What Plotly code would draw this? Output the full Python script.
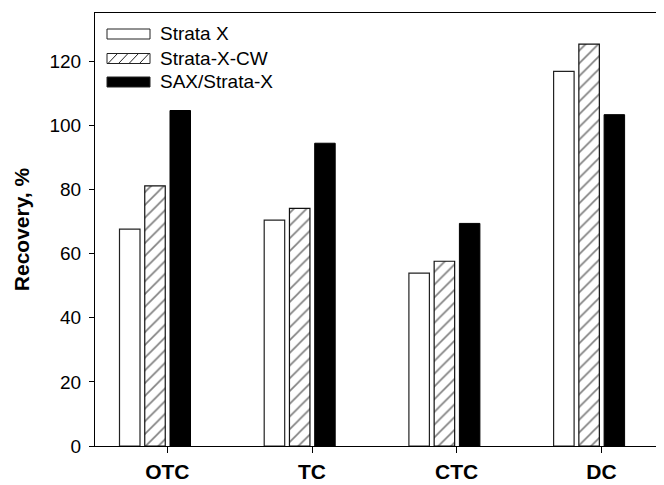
import plotly.graph_objects as go

# ---- data ----
categories = ["OTC", "TC", "CTC", "DC"]
series_names = ["Strata X", "Strata-X-CW", "SAX/Strata-X"]
strata_x = [67.6, 70.4, 53.9, 116.8]
strata_x_cw = [81.1, 74.1, 57.6, 125.3]
sax_strata_x = [104.6, 94.4, 69.4, 103.3]
y_ticks = [0, 20, 40, 60, 80, 100, 120]
y_title = "Recovery, %"

# ---- layout geometry (page has an 8px body margin) ----
OFF = 8
W, H = 664, 485
L, R, T, B = 95 - OFF, 0, 13 - OFF, H - (446 - OFF)
PW, PH = W - L - R, H - T - B
FONT = "Liberation Sans, Arial, Helvetica, sans-serif"


def px_x(px):
    # screen pixel -> paper fraction
    return (px - OFF - L) / PW


def px_y(py):
    return (H - B - (py - OFF)) / PH


fig = go.Figure()
fig.add_trace(go.Bar(
    x=categories, y=strata_x, name=series_names[0],
    marker=dict(color="white", line=dict(color="#222222", width=1.2)),
))
fig.add_trace(go.Bar(
    x=categories, y=strata_x_cw, name=series_names[1],
    marker=dict(color="white", line=dict(color="#111111", width=1.2),
                pattern=dict(shape="/", fgcolor="black", bgcolor="white",
                             size=9, solidity=0.18)),
))
fig.add_trace(go.Bar(
    x=categories, y=sax_strata_x, name=series_names[2],
    marker=dict(color="black", line=dict(color="black", width=1)),
))
# invisible trace that carries the category tick axis
fig.add_trace(go.Scatter(
    x=categories, y=strata_x, xaxis="x2", mode="markers",
    marker=dict(opacity=0), hoverinfo="skip", showlegend=False,
))

# ---- custom legend (wide swatches) ----
shapes = []
annotations = []
row_y = [34, 58.5, 82]
sx0, sx1, sh = 107, 150, 10
for i, (name, yc) in enumerate(zip(series_names, row_y)):
    fill = "black" if i == 2 else "white"
    shapes.append(dict(type="rect", xref="paper", yref="paper",
                       x0=px_x(sx0), x1=px_x(sx1),
                       y0=px_y(yc + sh / 2), y1=px_y(yc - sh / 2),
                       fillcolor=fill, line=dict(color="#222222", width=1)))
    if i == 1:
        step = 10.5
        for k in range(4):
            xa = sx0 + 1 + k * step
            xb = xa + 9.5
            shapes.append(dict(type="line", xref="paper", yref="paper",
                               x0=px_x(xa), x1=px_x(min(xb, sx1)),
                               y0=px_y(yc + sh / 2), y1=px_y(yc - sh / 2),
                               line=dict(color="#222222", width=1)))
    annotations.append(dict(text=name, xref="paper", yref="paper",
                            x=px_x(158), y=px_y(yc), xanchor="left",
                            yanchor="middle", showarrow=False,
                            font=dict(family=FONT, size=19, color="black")))

# axis ranges: group centres at screen x=155 + 144.7*i, ticks at 167.3 + 144.7*i
PPU = 144.7
right_screen = W + OFF
bar_range = [(95 - 155) / PPU, (right_screen - 155) / PPU]
tick_range = [(95 - 167.3) / PPU, (right_screen - 167.3) / PPU]

fig.update_layout(
    width=W, height=H,
    margin=dict(l=L, r=R, t=T, b=B, autoexpand=False),
    paper_bgcolor="white", plot_bgcolor="white",
    barmode="group", bargap=0.4765, bargroupgap=0.188,
    showlegend=False,
    font=dict(family=FONT, color="black"),
    shapes=shapes,
    annotations=annotations,
    xaxis=dict(type="category", range=bar_range,
               showticklabels=False, ticks="", showgrid=False,
               showline=True, linecolor="black", linewidth=1, mirror=True,
               zeroline=False),
    xaxis2=dict(type="category", overlaying="x", anchor="y", side="bottom",
                range=tick_range, categoryorder="array",
                categoryarray=categories,
                ticks="outside", ticklen=6, tickcolor="black", tickwidth=1,
                ticklabelstandoff=1,
                tickfont=dict(family=FONT, size=21, weight="bold", color="black"),
                showgrid=False, showline=False, zeroline=False),
    yaxis=dict(range=[0, 135], tickvals=y_ticks, ticks="outside", ticklen=5,
               tickcolor="black", tickwidth=1, ticklabelstandoff=4,
               tickfont=dict(family=FONT, size=19, color="black"),
               showline=True, linecolor="black", linewidth=1,
               showgrid=False, zeroline=False,
               title=dict(text=y_title, standoff=14,
                          font=dict(family=FONT, size=21, weight="bold",
                                    color="black"))),
)

fig.write_html("out.html")
